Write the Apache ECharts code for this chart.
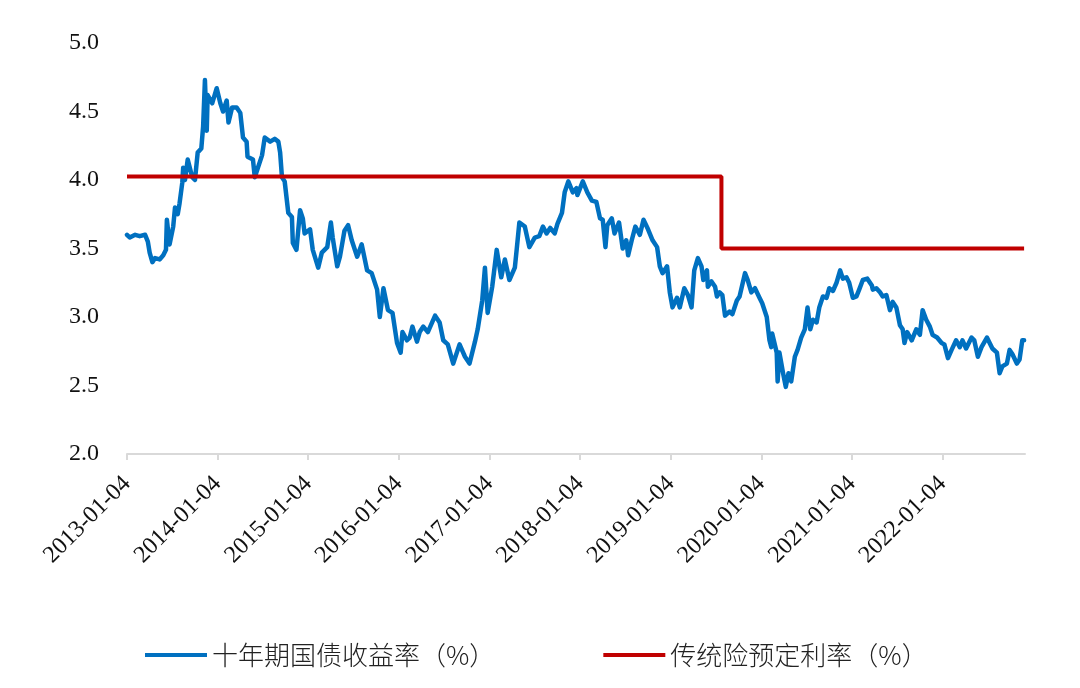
<!DOCTYPE html>
<html><head><meta charset="utf-8">
<script src="https://cdn.jsdelivr.net/npm/echarts@6/dist/echarts.min.js"></script>
<style>html,body{margin:0;padding:0;background:#fff}#c{width:1080px;height:688px}</style>
</head><body><div id="c"></div>
<script>
const seriesNames = ['十年期国债收益率（%）', '传统险预定利率（%）'];
const yearTicks = [2013, 2014, 2015, 2016, 2017, 2018, 2019, 2020, 2021, 2022];
const yTicks = [2.0, 2.5, 3.0, 3.5, 4.0, 4.5, 5.0];
// x position of each observation, in decimal years (2013.00 = 2013-01-04)
const bondYearPos = [
2013.00,2013.03,2013.09,2013.14,2013.20,2013.23,2013.25,2013.28,2013.31,2013.36,
2013.40,2013.43,2013.44,2013.47,2013.51,2013.53,2013.56,2013.58,2013.61,2013.62,
2013.64,2013.67,2013.72,2013.75,2013.78,2013.82,2013.84,2013.86,2013.88,2013.89,
2013.94,2013.99,2014.03,2014.06,2014.08,2014.10,2014.12,2014.16,2014.21,2014.25,
2014.28,2014.32,2014.33,2014.39,2014.41,2014.44,2014.49,2014.52,2014.58,2014.63,
2014.67,2014.69,2014.71,2014.74,2014.78,2014.82,2014.83,2014.87,2014.91,2014.94,
2014.96,2015.02,2015.05,2015.11,2015.15,2015.21,2015.25,2015.27,2015.32,2015.35,
2015.40,2015.44,2015.48,2015.54,2015.59,2015.65,2015.70,2015.76,2015.79,2015.83,
2015.88,2015.93,2015.98,2016.02,2016.04,2016.09,2016.12,2016.15,2016.20,2016.23,
2016.27,2016.32,2016.40,2016.45,2016.49,2016.54,2016.60,2016.67,2016.73,2016.78,
2016.84,2016.87,2016.92,2016.95,2016.98,2017.03,2017.08,2017.13,2017.17,2017.22,
2017.28,2017.30,2017.33,2017.39,2017.44,2017.50,2017.55,2017.59,2017.63,2017.67,
2017.72,2017.75,2017.80,2017.83,2017.87,2017.92,2017.96,2017.97,2018.03,2018.08,
2018.13,2018.18,2018.22,2018.25,2018.28,2018.30,2018.35,2018.38,2018.43,2018.47,
2018.51,2018.53,2018.57,2018.61,2018.66,2018.70,2018.75,2018.80,2018.85,2018.88,
2018.91,2018.96,2018.99,2019.02,2019.07,2019.10,2019.15,2019.19,2019.23,2019.26,
2019.30,2019.34,2019.36,2019.40,2019.41,2019.45,2019.49,2019.51,2019.54,2019.57,
2019.60,2019.65,2019.68,2019.73,2019.76,2019.82,2019.85,2019.89,2019.93,2019.98,
2020.01,2020.06,2020.09,2020.11,2020.12,2020.17,2020.18,2020.20,2020.24,2020.27,
2020.30,2020.33,2020.37,2020.40,2020.44,2020.48,2020.51,2020.54,2020.57,2020.61,
2020.64,2020.68,2020.72,2020.75,2020.79,2020.83,2020.87,2020.90,2020.94,2020.97,
2021.01,2021.05,2021.08,2021.12,2021.17,2021.22,2021.23,2021.27,2021.31,2021.34,
2021.38,2021.42,2021.45,2021.49,2021.53,2021.56,2021.58,2021.61,2021.66,2021.71,
2021.75,2021.78,2021.82,2021.86,2021.89,2021.94,2021.99,2022.02,2022.06,2022.10,
2022.15,2022.19,2022.22,2022.26,2022.32,2022.35,2022.39,2022.43,2022.49,2022.52,
2022.55,2022.60,2022.63,2022.66,2022.71,2022.74,2022.77,2022.82,2022.85,2022.88,
2022.90
];
const bondYield = [
3.60,3.58,3.60,3.59,3.60,3.55,3.47,3.40,3.43,3.42,
3.45,3.49,3.71,3.53,3.66,3.80,3.75,3.83,3.98,4.09,
4.00,4.15,4.02,4.00,4.20,4.23,4.39,4.73,4.36,4.62,
4.56,4.67,4.56,4.50,4.50,4.58,4.42,4.53,4.53,4.49,
4.31,4.28,4.17,4.15,4.02,4.08,4.18,4.31,4.28,4.30,
4.28,4.20,4.02,3.99,3.76,3.73,3.54,3.49,3.78,3.72,
3.61,3.64,3.49,3.36,3.47,3.51,3.69,3.58,3.37,3.44,
3.63,3.67,3.56,3.44,3.53,3.34,3.32,3.20,3.00,3.21,
3.05,3.03,2.81,2.74,2.89,2.83,2.85,2.93,2.82,2.89,
2.93,2.89,3.01,2.96,2.83,2.80,2.66,2.80,2.71,2.66,
2.82,2.91,3.12,3.36,3.03,3.22,3.49,3.29,3.42,3.27,
3.36,3.49,3.69,3.66,3.51,3.58,3.59,3.66,3.61,3.65,
3.61,3.68,3.76,3.91,3.99,3.91,3.94,3.89,3.99,3.91,
3.85,3.84,3.72,3.71,3.51,3.67,3.72,3.61,3.69,3.50,
3.56,3.45,3.56,3.66,3.60,3.71,3.64,3.56,3.51,3.37,
3.32,3.37,3.18,3.07,3.14,3.07,3.21,3.16,3.07,3.34,
3.43,3.37,3.27,3.34,3.22,3.26,3.22,3.15,3.18,3.16,
3.01,3.04,3.02,3.12,3.15,3.32,3.27,3.18,3.21,3.14,
3.10,3.00,2.83,2.78,2.88,2.74,2.53,2.74,2.59,2.49,
2.59,2.53,2.71,2.76,2.85,2.91,3.07,2.91,2.98,2.96,
3.07,3.15,3.14,3.21,3.19,3.25,3.34,3.28,3.29,3.25,
3.14,3.15,3.20,3.27,3.28,3.23,3.20,3.21,3.18,3.15,
3.16,3.05,3.11,3.07,2.94,2.91,2.81,2.89,2.83,2.91,
2.87,3.05,2.98,2.93,2.87,2.85,2.81,2.80,2.70,2.76,
2.83,2.78,2.83,2.77,2.85,2.83,2.71,2.78,2.85,2.81,
2.77,2.74,2.59,2.64,2.66,2.76,2.73,2.66,2.69,2.83,
2.83
];
const rateYearPos = [2013.00, 2019.56, 2019.56, 2022.90];
const rateValue = [4.025, 4.025, 3.5, 3.5];

const bondData = bondYearPos.map((x, i) => [x, bondYield[i]]);
const rateData = rateYearPos.map((x, i) => [x, rateValue[i]]);

const chart = echarts.init(document.getElementById('c'), null, {renderer: 'canvas'});
chart.setOption({
  animation: false,
  backgroundColor: '#ffffff',
  grid: {left: 127, right: 55, top: 43, bottom: 234, containLabel: false},
  legend: {
    left: 145, top: 642, padding: 0,
    itemWidth: 62, itemHeight: 4, itemGap: 108,
    icon: 'rect',
    textStyle: {fontFamily: '"Noto Sans CJK SC", sans-serif', fontSize: 26, fontWeight: 300, color: '#222'},
    data: seriesNames
  },
  xAxis: {
    type: 'value', min: 2013, max: 2022.91, interval: 1,
    splitLine: {show: false},
    axisLine: {show: true, lineStyle: {color: '#d9d9d9', width: 2}},
    axisTick: {show: true, length: 6, lineStyle: {color: '#d9d9d9', width: 2}, customValues: yearTicks},
    axisLabel: {
      customValues: yearTicks,
      rotate: 45, margin: 26,
      fontFamily: '"Liberation Serif", "Times New Roman", serif', fontSize: 24, color: '#111',
      formatter: v => Math.round(v) + '-01-04'
    }
  },
  yAxis: {
    type: 'value', min: 2, max: 5, interval: 0.5,
    splitLine: {show: false},
    axisLine: {show: false}, axisTick: {show: false},
    axisLabel: {
      margin: 28,
      fontFamily: '"Liberation Serif", "Times New Roman", serif', fontSize: 24, color: '#111',
      formatter: v => v.toFixed(1)
    }
  },
  series: [
    {name: seriesNames[0], type: 'line', data: bondData, showSymbol: false, symbol: 'none',
     lineStyle: {color: '#0070C0', width: 4.5, join: 'round', cap: 'round'}, itemStyle: {color: '#0070C0'}, z: 2},
    {name: seriesNames[1], type: 'line', data: rateData, showSymbol: false, symbol: 'none',
     lineStyle: {color: '#C00000', width: 4}, itemStyle: {color: '#C00000'}, z: 3}
  ]
});
</script></body></html>
